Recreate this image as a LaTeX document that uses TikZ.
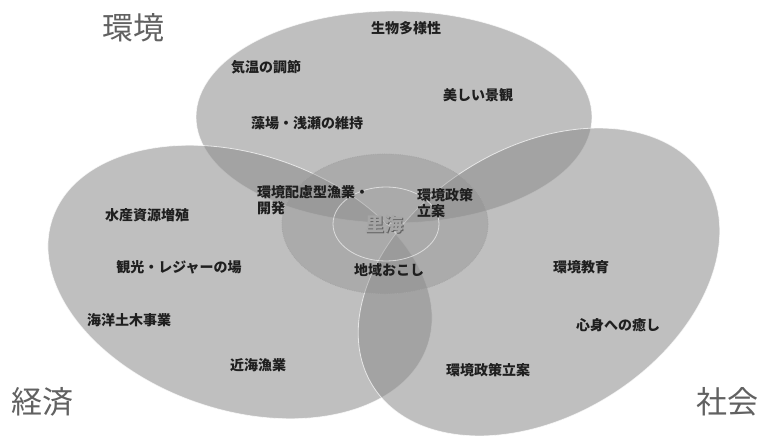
\documentclass[tikz,border=0pt]{standalone}
\usepackage{fontspec}
\newfontfamily\jp{Noto Sans CJK JP}
\begin{document}
\begin{tikzpicture}[x=1pt,y=-1pt,
  lobe/.style={fill=black!45, fill opacity=0.55, draw=white, draw opacity=0.7, line width=0.8pt},
  lbl/.style={font=\jp\bfseries\fontsize{14}{16.5}\selectfont, text=black!88, inner sep=0pt},
  big/.style={font=\jp\fontsize{31}{34}\selectfont, text=black!62, inner sep=0pt},
  centre/.style={font=\jp\bfseries\fontsize{19}{21}\selectfont, inner sep=0pt}]
\fill[white] (0,0) rectangle (762,438);
\useasboundingbox (0,0) rectangle (762,438);
% lobes
\path[lobe] (394,117) ellipse [x radius=198, y radius=106];
\begin{scope}[shift={(240,282)}, rotate=-18.6]
  \path[lobe] (0,0) ellipse [x radius=198, y radius=128];
\end{scope}
\begin{scope}[shift={(539,282)}, rotate=32]
  \path[lobe] (0,0) ellipse [x radius=196, y radius=134];
\end{scope}
% centre rings
\path[fill=black!45, fill opacity=0.38, draw=black!35, densely dotted, line width=0.8pt] (385,224) ellipse [x radius=103, y radius=70];
\path[fill=black!35, fill opacity=0.15, draw=white, draw opacity=0.6, line width=0.8pt] (386,224) ellipse [x radius=53, y radius=37];
% headings
\node[big] (kankyo) at (133,28) {環境};
\node[big] (keizai) at (42,402) {経済};
\node[big] (shakai) at (727,402) {社会};
% centre
\node[centre, text=black!62] (satoumishadow) at (385,225.2) {里海};
\node[centre, text=black!35] (satoumi) at (384,224) {里海};
% labels
\node[lbl] (seibutsu) at (406,28) {生物多様性};
\node[lbl] (kion) at (266,67) {気温の調節};
\node[lbl] (keikan) at (478,95) {美しい景観};
\node[lbl] (moba) at (307,123) {藻場・浅瀬の維持};
\node[lbl, anchor=west, align=left] (hairyo) at (257,200) {環境配慮型漁業・\\開発};
\node[lbl, anchor=west, align=left] (seisaku1) at (417,203) {環境政策\\立案};
\node[lbl] (chiiki) at (389,270) {地域おこし};
\node[lbl] (suisan) at (147,215) {水産資源増殖};
\node[lbl] (kanko) at (179,267) {観光・レジャーの場};
\node[lbl] (doboku) at (129,320) {海洋土木事業};
\node[lbl] (kinkai) at (258,365) {近海漁業};
\node[lbl] (kyoiku) at (581,267) {環境教育};
\node[lbl] (iyashi) at (618,325) {心身への癒し};
\node[lbl] (seisaku2) at (488,370) {環境政策立案};
\end{tikzpicture}
\end{document}
